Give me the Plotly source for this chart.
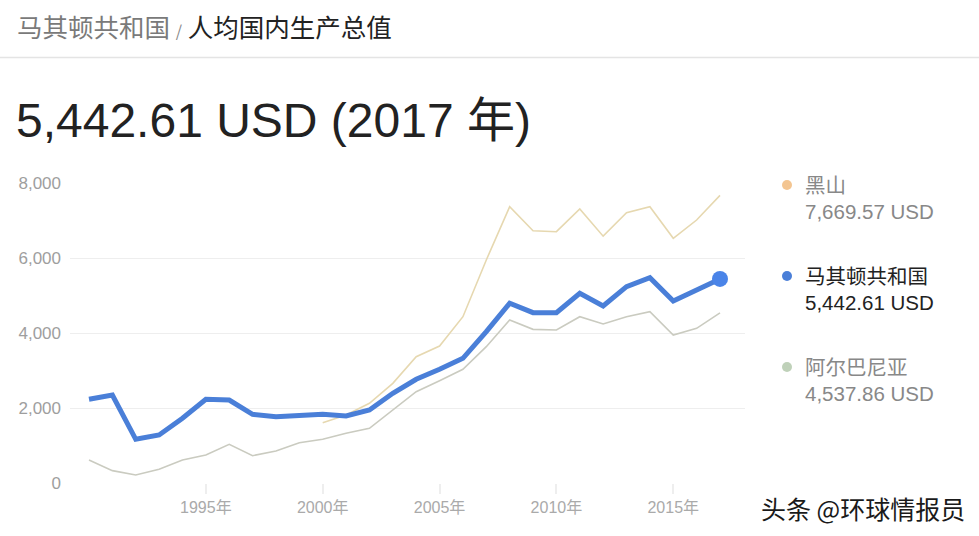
import plotly.graph_objects as go

years = list(range(1990, 2018))
macedonia = [2232, 2347, 1165, 1280, 1725, 2232, 2213, 1832, 1768, 1813, 1832, 1787, 1947,
             2392, 2765, 3032, 3325, 4035, 4792, 4542, 4542, 5058, 4720, 5235, 5475, 4853, 5165, 5442.61]
montenegro_years = list(range(2000, 2018))
montenegro = [1608, 1813, 2125, 2658, 3368, 3653, 4435, 5947, 7368, 6728, 6702, 7307, 6582,
              7208, 7368, 6525, 7013, 7669.57]
albania = [613, 329, 213, 365, 613, 747, 1032, 728, 853, 1075, 1165, 1325, 1458,
           1947, 2435, 2728, 3032, 3635, 4347, 4098, 4080, 4435, 4240, 4435, 4568, 3947, 4125, 4537.86]
x_ticks = [1995, 2000, 2005, 2010, 2015]
x_tick_labels = ["1995年", "2000年", "2005年", "2010年", "2015年"]
y_ticks = [0, 2000, 4000, 6000, 8000]
y_tick_labels = ["0", "2,000", "4,000", "6,000", "8,000"]
legend_names = ["黑山", "马其顿共和国", "阿尔巴尼亚"]
legend_values = ["7,669.57 USD", "5,442.61 USD", "4,537.86 USD"]

FONT = "Arial, 'Liberation Sans', 'Noto Sans CJK SC', sans-serif"
W, H = 979, 536
L, R, T, B = 70, 234, 183, 53
PW, PH = W - L - R, H - T - B

def px_x(p):
    return (p - L) / PW

def px_y(p):
    return (H - B - p) / PH

fig = go.Figure()
fig.add_trace(go.Scatter(x=montenegro_years, y=montenegro, mode="lines",
                         line=dict(color="#E6D8B0", width=1.6), hoverinfo="skip"))
fig.add_trace(go.Scatter(x=years, y=albania, mode="lines",
                         line=dict(color="#CACBC0", width=1.6), hoverinfo="skip"))
fig.add_trace(go.Scatter(x=years, y=macedonia, mode="lines",
                         line=dict(color="#4A7FD8", width=5), hoverinfo="skip"))
fig.add_trace(go.Scatter(x=[years[-1]], y=[macedonia[-1]], mode="markers",
                         marker=dict(color="#4A84E8", size=16), hoverinfo="skip"))

annotations = []
shapes = []
# header
annotations.append(dict(
    text='<span style="color:#7a7a7a">马其顿共和国</span> <span style="color:#888;font-size:16px">/</span> <span style="color:#222">人均国内生产总值</span>',
    xref="paper", yref="paper", x=px_x(15), y=px_y(25), xanchor="left", yanchor="middle",
    showarrow=False, font=dict(family="'Noto Sans CJK SC', sans-serif", size=25.5)))
shapes.append(dict(type="line", xref="paper", yref="paper", x0=px_x(0), x1=px_x(W),
                   y0=px_y(57.5), y1=px_y(57.5), line=dict(color="#E4E4E4", width=1.5)))
annotations.append(dict(
    text="5,442.61 USD (2017 年)", xref="paper", yref="paper", x=px_x(14), y=px_y(120),
    xanchor="left", yanchor="middle", showarrow=False,
    font=dict(family=FONT, size=48, color="#222")))

# legend
leg_y = [185, 276, 367]
leg_dot = ["#F3C591", "#4A7FD8", "#BFD1B9"]
leg_col = ["#888888", "#222222", "#888888"]
for i in range(3):
    shapes.append(dict(type="circle", xref="paper", yref="paper", xsizemode="pixel", ysizemode="pixel",
                       xanchor=px_x(787), yanchor=px_y(leg_y[i]), x0=-5, x1=5, y0=-5, y1=5,
                       fillcolor=leg_dot[i], line=dict(width=0)))
    annotations.append(dict(text=legend_names[i], xref="paper", yref="paper", x=px_x(803), y=px_y(leg_y[i]),
                            xanchor="left", yanchor="middle", showarrow=False,
                            font=dict(family=FONT, size=20.5, color=leg_col[i])))
    annotations.append(dict(text=legend_values[i], xref="paper", yref="paper", x=px_x(803), y=px_y(leg_y[i] + 26),
                            xanchor="left", yanchor="middle", showarrow=False,
                            font=dict(family=FONT, size=20.5, color=leg_col[i])))

# watermark
annotations.append(dict(text="头条 @环球情报员", xref="paper", yref="paper", x=px_x(759), y=px_y(508),
                        xanchor="left", yanchor="middle", showarrow=False,
                        font=dict(family="'Noto Sans CJK SC', sans-serif", size=25, color="#1a1a1a")))

x0 = 1990 - 19 / 23.37
x1 = 2017 + 25 / 23.37
fig.update_layout(
    width=W, height=H, margin=dict(l=L, r=R, t=T, b=B),
    paper_bgcolor="white", plot_bgcolor="white", showlegend=False,
    font=dict(family=FONT),
    xaxis=dict(range=[x0, x1], tickvals=x_ticks, ticktext=x_tick_labels, showgrid=False,
               ticks="outside", ticklen=10, tickcolor="#EEEEEE", tickwidth=1.5,
               tickfont=dict(size=16, color="#AAAAAA", family=FONT), zeroline=False, showline=False),
    yaxis=dict(range=[0, 8000], tickvals=y_ticks, ticktext=y_tick_labels, showgrid=True,
               gridcolor="#EEEEEE", gridwidth=1.2, zeroline=False, showline=False,
               tickfont=dict(size=17, color="#9E9E9E", family=FONT), ticks="", ticklabelstandoff=8),
    annotations=annotations, shapes=shapes,
)
fig.write_html("out.html", config={"displayModeBar": False},
               post_script="document.body.style.margin='0px';document.body.style.overflow='hidden';")
